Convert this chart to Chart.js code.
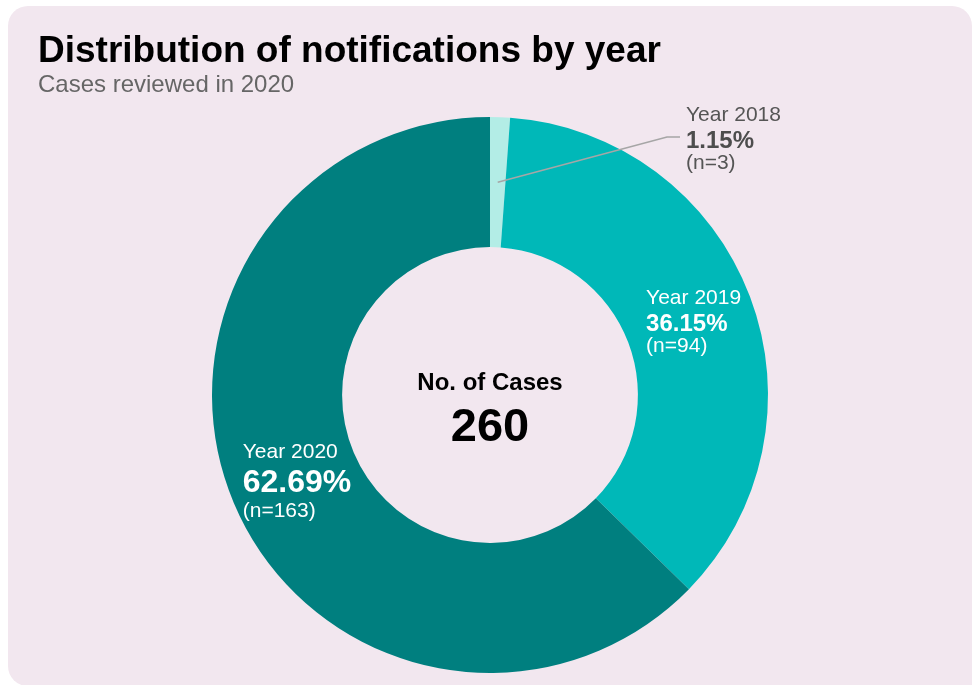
<!DOCTYPE html>
<html>
<head>
<meta charset="utf-8">
<script src="https://cdn.jsdelivr.net/npm/chart.js@4/dist/chart.umd.min.js"></script>
<style>
  html, body { margin: 0; padding: 0; background: #ffffff; }
  #panel {
    position: absolute; left: 8px; top: 6px; width: 964px; height: 680px;
    background: #f2e7ef; border-radius: 20px 20px 0 20px;
  }
  #chart { position: absolute; left: 0; top: 0; }
</style>
</head>
<body>
<div id="panel"></div>
<canvas id="chart" width="972" height="685"></canvas>
<script>
// Notification counts by year of notification
const categories = ['Year 2018', 'Year 2019', 'Year 2020'];
const counts = [3, 94, 163];
const sliceColors = ['#b3ede6', '#00b8b8', '#007f7f'];

const titleText = 'Distribution of notifications by year';
const subtitleText = 'Cases reviewed in 2020';
const centerCaption = 'No. of Cases';

const FONT = '"Liberation Sans", Arial, Helvetica, sans-serif';
const total = counts.reduce((a, b) => a + b, 0);

// Label placement per slice: inside labels sit near the arc centroid,
// the small slice gets an outside label with a leader line.
const labelStyle = [
  { outside: true, color: '#4d4d4d', yearColor: '#555555', pctSize: 24, dx: 0, dy: 0 },
  { outside: false, color: '#ffffff', yearColor: '#ffffff', pctSize: 24, dx: -43, dy: 12 },
  { outside: false, color: '#ffffff', yearColor: '#ffffff', pctSize: 32, dx: -51, dy: 14 }
];

function pct(v) { return (v / total * 100).toFixed(2) + '%'; }

const textPlugin = {
  id: 'donutText',
  afterDraw(chart) {
    const ctx = chart.ctx;
    const meta = chart.getDatasetMeta(0);
    const arc0 = meta.data[0];
    const cx = arc0.x, cy = arc0.y;
    ctx.save();
    ctx.textBaseline = 'alphabetic';

    // heading
    ctx.textAlign = 'left';
    ctx.fillStyle = '#000000';
    ctx.font = 'bold 37px ' + FONT;
    ctx.fillText(titleText, 38, 62);
    ctx.fillStyle = '#666666';
    ctx.font = '24px ' + FONT;
    ctx.fillText(subtitleText, 38, 92);

    // centre total
    ctx.textAlign = 'center';
    ctx.fillStyle = '#000000';
    ctx.font = 'bold 24px ' + FONT;
    ctx.fillText(centerCaption, cx, cy - 5);
    ctx.font = 'bold 47px ' + FONT;
    ctx.fillText(String(total), cx, cy + 46);

    // slice labels
    meta.data.forEach((arc, i) => {
      const st = labelStyle[i];
      const p = arc.tooltipPosition();
      let x, yMid;
      if (st.outside) {
        const ex = cx + 177, ey = cy - 258;
        ctx.strokeStyle = '#a6a6a6';
        ctx.lineWidth = 1.5;
        ctx.beginPath();
        ctx.moveTo(p.x, p.y);
        ctx.lineTo(ex, ey);
        ctx.lineTo(ex + 13, ey);
        ctx.stroke();
        x = ex + 19;
        yMid = ey + 11;
      } else {
        x = p.x + st.dx;
        yMid = p.y + st.dy;
      }
      ctx.textAlign = 'left';
      ctx.fillStyle = st.yearColor;
      ctx.font = '21px ' + FONT;
      ctx.fillText(categories[i], x, yMid - (st.pctSize > 28 ? 34 : 27));
      ctx.fillStyle = st.color;
      ctx.font = 'bold ' + st.pctSize + 'px ' + FONT;
      ctx.fillText(pct(counts[i]), x, yMid);
      ctx.fillStyle = st.yearColor;
      ctx.font = '21px ' + FONT;
      ctx.fillText('(n=' + counts[i] + ')', x, yMid + (st.pctSize > 28 ? 25 : 21));
    });
    ctx.restore();
  }
};

new Chart(document.getElementById('chart'), {
  type: 'doughnut',
  data: {
    labels: categories,
    datasets: [{
      data: counts,
      backgroundColor: sliceColors,
      borderWidth: 0,
      hoverOffset: 0
    }]
  },
  options: {
    responsive: false,
    animation: false,
    cutout: '53.2%',
    layout: { padding: { top: 117, bottom: 12, left: 212, right: 204 } },
    plugins: {
      legend: { display: false },
      tooltip: { enabled: false }
    },
    events: []
  },
  plugins: [textPlugin]
});
</script>
</body>
</html>
